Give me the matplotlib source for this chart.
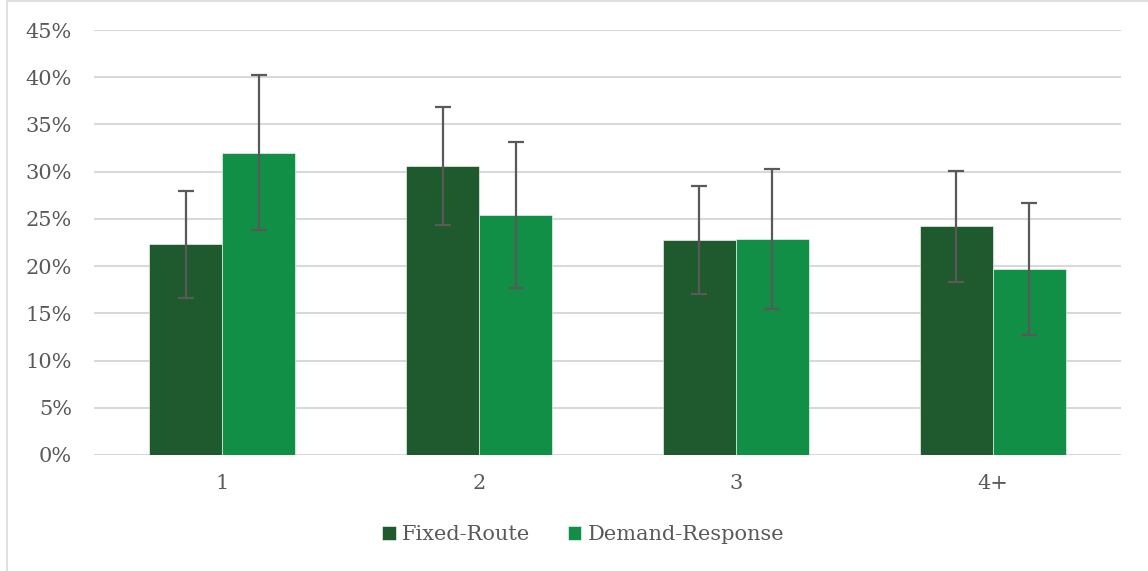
import matplotlib
matplotlib.use("Agg")
import matplotlib.pyplot as plt
from matplotlib.patches import Rectangle
from matplotlib.ticker import PercentFormatter, MultipleLocator
import numpy as np

# Share of riders by group, with error margins (percent)
categories = ["1", "2", "3", "4+"]
fixed_route = [22.3, 30.6, 22.8, 24.2]
fixed_route_err = [5.7, 6.25, 5.7, 5.85]
demand_response = [32.0, 25.4, 22.9, 19.7]
demand_response_err = [8.2, 7.7, 7.4, 7.0]
series_names = ["Fixed-Route", "Demand-Response"]

DARK = "#1E5A2D"
LIGHT = "#118F46"
TEXT = "#595959"
GRID = "#D9D9D9"

W, H = 1148, 571
fig = plt.figure(figsize=(W / 100, H / 100), dpi=100)
plt.rcParams["font.family"] = ["DejaVu Serif"]

# chart frame
fig.patches.append(Rectangle((7 / W, -0.1), 1.2, 1.1 - 1.5 / H + 0.0,
                             transform=fig.transFigure, fill=False,
                             edgecolor=GRID, linewidth=1.2))

ax = fig.add_axes([94 / W, (H - 455) / H, (1121 - 94) / W, (455 - 30) / H])

x = np.arange(len(categories))
bw = 73 / 256.75
err_kw = dict(ecolor=TEXT, elinewidth=1.6, capsize=5.5, capthick=1.6)
ax.bar(x - bw / 2, fixed_route, bw, yerr=fixed_route_err, color=DARK,
       edgecolor="#FFFFFF", linewidth=0.4, label=series_names[0],
       error_kw=err_kw, zorder=3)
ax.bar(x + bw / 2, demand_response, bw, yerr=demand_response_err, color=LIGHT,
       edgecolor="#FFFFFF", linewidth=0.4, label=series_names[1],
       error_kw=err_kw, zorder=3)

ax.set_xlim(-0.5, len(categories) - 0.5)
ax.set_ylim(0, 45)
ax.yaxis.set_major_locator(MultipleLocator(5))
ax.yaxis.set_major_formatter(PercentFormatter(decimals=0))
ax.set_xticks(x)
ax.set_xticklabels(categories)
ax.grid(axis="y", color=GRID, linewidth=1.5, zorder=0)
ax.set_axisbelow(True)
for s in ax.spines.values():
    s.set_visible(False)
ax.tick_params(axis="both", length=0, labelsize=15, colors=TEXT)
ax.tick_params(axis="y", pad=16)
ax.tick_params(axis="x", pad=14)

handles, labels = ax.get_legend_handles_labels()
fig.legend(handles, labels, loc="center", bbox_to_anchor=(583 / W, (H - 535) / H),
           ncol=2, frameon=False, fontsize=15, labelcolor=TEXT,
           handlelength=0.65, handleheight=0.65, handletextpad=0.3,
           columnspacing=1.8)

fig.savefig("out.png", dpi=100)
